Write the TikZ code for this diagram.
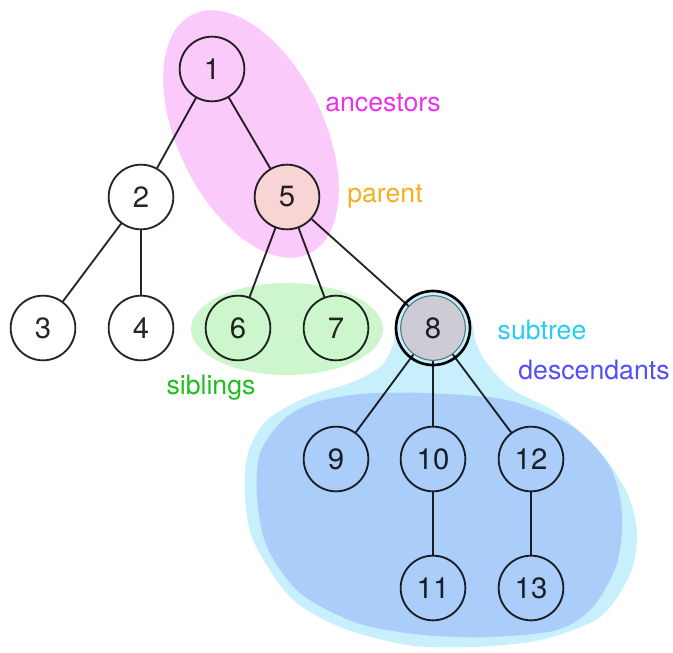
\documentclass[tikz,border=0pt]{standalone}
\usepackage{fontspec}
\setmainfont{TeX Gyre Heros}
\definecolor{ancfill}{RGB}{250,202,250}
\definecolor{sibfill}{RGB}{205,246,205}
\definecolor{subfill}{RGB}{200,240,252}
\definecolor{descfill}{RGB}{170,205,250}
\definecolor{parfill}{RGB}{248,212,212}
\definecolor{selfill}{RGB}{205,203,212}
\definecolor{selring}{RGB}{60,100,110}
\definecolor{anccol}{RGB}{235,50,235}
\definecolor{parcol}{RGB}{245,175,30}
\definecolor{sibcol}{RGB}{30,190,30}
\definecolor{subcol}{RGB}{40,205,245}
\definecolor{desccol}{RGB}{80,80,245}
\begin{document}
\begin{tikzpicture}[x=0.75pt,y=-0.75pt,
  vertex/.style={circle,draw=black,draw opacity=.85,text opacity=.85,line width=1.4pt,
    minimum size=48.5pt,inner sep=0pt,font=\fontsize{22}{22}\selectfont},
  edge/.style={draw=black,draw opacity=.85,line width=1.4pt},
  lbl/.style={font=\fontsize{20}{20}\selectfont}]
  \useasboundingbox (0,0) rectangle (673,652);
  % highlighted regions sit behind the tree
  \fill[subfill] plot[smooth cycle] coordinates {(433,292) (462,302) (472,322) (476,343)
    (488,365) (513,390) (557,413) (600,452) (627,493) (637,533) (630,574) (600,617)
    (540,640) (473,647) (407,645) (340,627) (290,597) (253,540) (245,493) (248,453)
    (267,420) (307,397) (350,383) (380,367) (393,345) (396,320) (406,302)};
  \fill[descfill] plot[smooth cycle] coordinates {(423,393) (507,400) (573,427) (610,467)
    (622,513) (617,563) (593,607) (557,630) (490,637) (423,635) (357,623) (300,593)
    (267,547) (257,497) (260,453) (283,420) (313,403) (360,394)};
  \fill[ancfill,rotate around={-64:(251,134)}] (251,134) ellipse [x radius=133,y radius=73];
  \fill[sibfill] (287,329) ellipse [x radius=96,y radius=46];

  \node[vertex] (n1) at (212,69) {1};
  \node[vertex] (n2) at (141,197) {2};
  \node[vertex,fill=parfill] (n5) at (287,197) {5};
  \node[vertex] (n3) at (43,328) {3};
  \node[vertex] (n4) at (141,328) {4};
  \node[vertex] (n6) at (238,328) {6};
  \node[vertex] (n7) at (336,328) {7};
  \node[vertex,fill=selfill,draw=selring,line width=.8pt] (n8) at (433,328) {8};
  \node[vertex] (n9) at (336,459) {9};
  \node[vertex] (n10) at (433,459) {10};
  \node[vertex] (n12) at (531,459) {12};
  \node[vertex] (n11) at (433,588) {11};
  \node[vertex] (n13) at (531,588) {13};

  \foreach \a/\b in {n1/n2,n1/n5,n2/n3,n2/n4,n5/n6,n5/n7,n5/n8,
                     n8/n9,n8/n10,n8/n12,n10/n11,n12/n13}
    \draw[edge] (\a) -- (\b);
  \draw[line width=2pt] (n8.center) circle (37);

  \node[lbl,anccol] (ancestors) at (383,103) {ancestors};
  \node[lbl,parcol] (parent) at (385,196) {parent};
  \node[lbl,sibcol] (siblings) at (211,388) {siblings};
  \node[lbl,subcol] (subtree) at (542,330) {subtree};
  \node[lbl,desccol] (descendants) at (594,370) {descendants};
\end{tikzpicture}
\end{document}
